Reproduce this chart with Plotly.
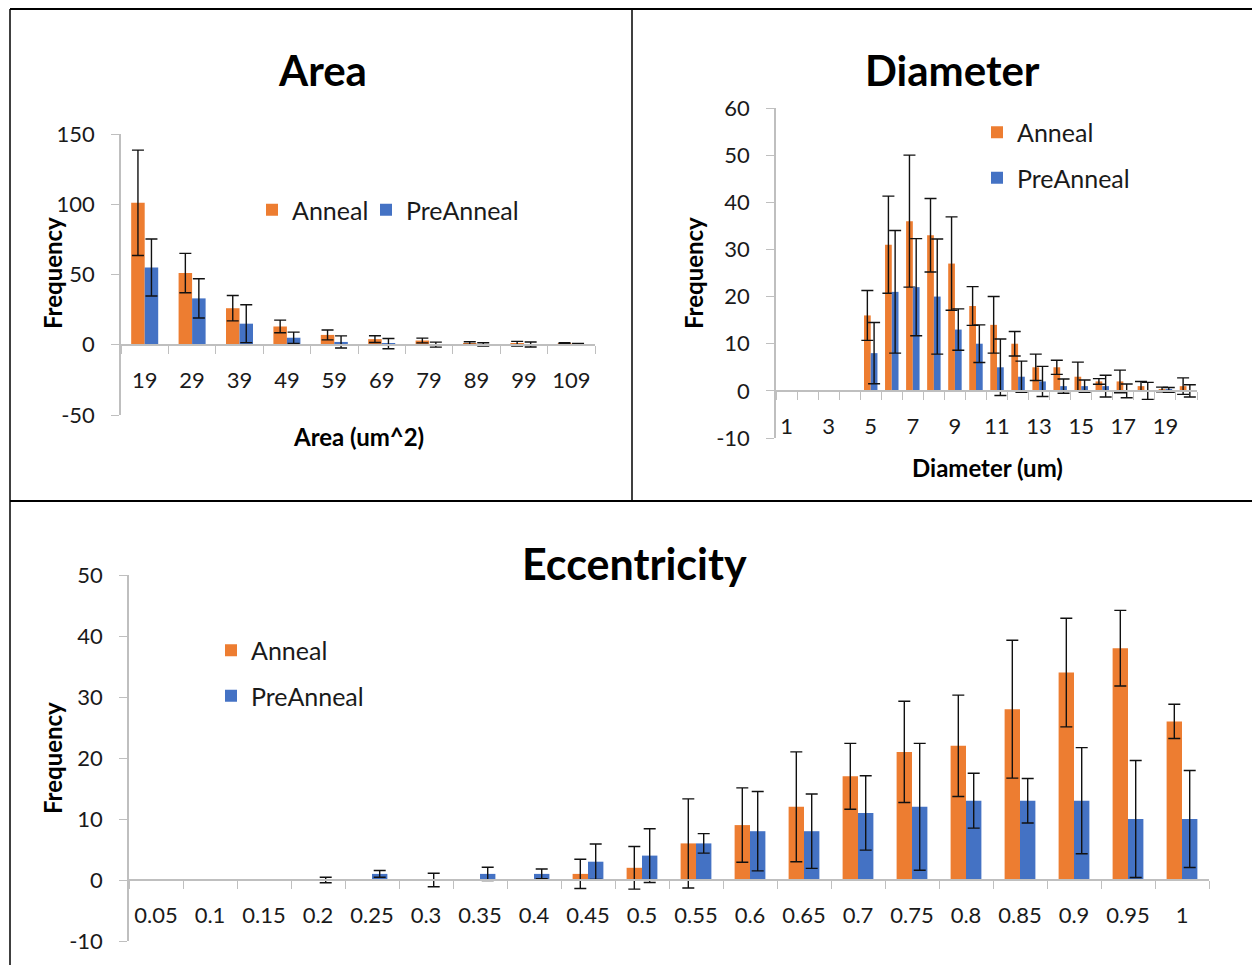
import plotly.graph_objects as go

# ---------------- data ----------------
area_cats = ["19", "29", "39", "49", "59", "69", "79", "89", "99", "109"]
area_anneal = [101, 51, 26, 13, 7, 4, 3, 1.2, 0.7, 1]
area_anneal_err = [37.5, 14, 9, 4.5, 3.5, 2.4, 1.7, 0.9, 1.7, 0.4]
area_pre = [55, 33, 15, 5, 2, 0.8, 0.1, 0.2, 0.2, 0.4]
area_pre_err = [20.3, 14, 13.5, 4, 4.3, 3.7, 1.8, 1.2, 1.8, 0.6]
area_yticks = [-50, 0, 50, 100, 150]

diam_cats = [str(i) for i in range(1, 21)]
diam_labels = ["1", "", "3", "", "5", "", "7", "", "9", "", "11", "", "13", "", "15", "", "17", "", "19", ""]
diam_anneal = [0, 0, 0, 0, 16, 31, 36, 33, 27, 18, 14, 10, 5, 5, 3, 2, 2, 1, 0.3, 1]
diam_anneal_err = [None, None, None, None, 5.3, 10.3, 14, 7.8, 9.9, 4.1, 6, 2.6, 2.8, 1.5, 3.1, 0.6, 2.4, 1, 0.5, 1.75]
diam_pre = [0, 0, 0, 0, 8, 21, 22, 20, 13, 10, 5, 3, 2, 1, 1, 1, 0, 0, 0.2, 0]
diam_pre_err = [None, None, None, None, 6.5, 13, 10.3, 12.2, 4.4, 4.0, 6, 3.3, 3.2, 1.5, 1.3, 2.3, 1.45, 1.8, 0.5, 1.3]
diam_yticks = [-10, 0, 10, 20, 30, 40, 50, 60]

ecc_cats = ["0.05", "0.1", "0.15", "0.2", "0.25", "0.3", "0.35", "0.4", "0.45", "0.5",
            "0.55", "0.6", "0.65", "0.7", "0.75", "0.8", "0.85", "0.9", "0.95", "1"]
ecc_anneal = [0, 0, 0, 0, 0, 0, 0, 0, 1, 2, 6, 9, 12, 17, 21, 22, 28, 34, 38, 26]
ecc_anneal_err = [None, None, None, None, None, None, None, None, 2.4, 3.5, 7.3, 6.1, 9, 5.4, 8.3, 8.3, 11.3, 8.9, 6.2, 2.8]
ecc_pre = [0, 0, 0, 0, 1, 0, 1, 1, 3, 4, 6, 8, 8, 11, 12, 13, 13, 13, 10, 10]
ecc_pre_err = [None, None, None, 0.45, 0.55, 1.1, 1.1, 0.8, 2.9, 4.4, 1.6, 6.5, 6.1, 6.1, 10.4, 4.5, 3.65, 8.7, 9.6, 7.95]
ecc_yticks = [-10, 0, 10, 20, 30, 40, 50]

ORANGE = "#ED7D31"
BLUE = "#4472C4"
AXIS = "#BFBFBF"
TXT = "#1a1a1a"
FONT = "Lato"

W, H = 1252, 965


def px(x):
    return x / W


def py(y):
    return 1 - y / H


fig = go.Figure()


def err(vals):
    return dict(type="data", array=vals, visible=True, color="#111111", thickness=1.4, width=6)


def add_pair(xa, ya, cats, a, ae, p, pe, w, leg_a, leg_p, grp):
    fig.add_trace(go.Bar(x=cats, y=a, name="Anneal", marker=dict(color=ORANGE), error_y=err(ae),
                         xaxis=xa, yaxis=ya, width=w, offset=-w, legend=leg_a,
                         legendgroup=grp + "a"))
    fig.add_trace(go.Bar(x=cats, y=p, name="PreAnneal", marker=dict(color=BLUE), error_y=err(pe),
                         xaxis=xa, yaxis=ya, width=w, offset=0, legend=leg_p,
                         legendgroup=grp + "p"))


add_pair("x", "y", area_cats, area_anneal, area_anneal_err, area_pre, area_pre_err, 0.285,
         "legend", "legend4", "g1")
add_pair("x2", "y2", diam_cats, diam_anneal, diam_anneal_err, diam_pre, diam_pre_err, 0.32,
         "legend2", "legend2", "g2")
add_pair("x3", "y3", ecc_cats, ecc_anneal, ecc_anneal_err, ecc_pre, ecc_pre_err, 0.285,
         "legend3", "legend3", "g3")


def zero_pos(dom, rng):
    return dom[0] + (0 - rng[0]) / (rng[1] - rng[0]) * (dom[1] - dom[0])


tickfont = dict(family=FONT, size=22, color=TXT)

panels = [
    # suffix, xdomain px, ydomain px (bottom, top), y ticks, categories, labels
    ("", [121, 595], [415, 134], area_yticks, area_cats, area_cats),
    ("2", [776, 1197], [438, 108], diam_yticks, diam_cats, diam_labels),
    ("3", [129, 1209], [941, 575], ecc_yticks, ecc_cats, ecc_cats),
]

layout = dict()
for sfx, xd, yd, yt, cats, labels in panels:
    xdom = [px(xd[0]), px(xd[1])]
    ydom = [py(yd[0]), py(yd[1])]
    yr = [min(yt), max(yt)]
    layout["xaxis" + sfx] = dict(
        domain=xdom, anchor="free", position=zero_pos(ydom, yr),
        type="category", tickmode="array", tickvals=cats, ticktext=labels, tickangle=0,
        tickson="boundaries", ticks="outside", ticklen=8, tickcolor=AXIS, tickwidth=1.2,
        showline=True, linecolor=AXIS, linewidth=1.5, showgrid=False, zeroline=False,
        tickfont=tickfont, ticklabelstandoff=16, fixedrange=True,
    )
    layout["yaxis" + sfx] = dict(
        domain=ydom, anchor="x" + sfx, range=yr,
        tickmode="array", tickvals=yt, ticktext=[str(v) for v in yt],
        ticks="outside", ticklen=8, tickcolor=AXIS, tickwidth=1.2,
        showline=True, linecolor=AXIS, linewidth=1.5, showgrid=False, zeroline=False,
        tickfont=tickfont, ticklabelstandoff=12, fixedrange=True,
    )

legfont = dict(family=FONT, size=25, color=TXT)
layout["legend"] = dict(orientation="h", x=px(252), y=py(210), xanchor="left", yanchor="middle",
                        font=legfont, bgcolor="rgba(0,0,0,0)", itemwidth=30)
layout["legend4"] = dict(orientation="h", x=px(366), y=py(210), xanchor="left", yanchor="middle",
                         font=legfont, bgcolor="rgba(0,0,0,0)", itemwidth=30)
layout["legend2"] = dict(orientation="v", x=px(977), y=py(155), xanchor="left", yanchor="middle",
                         font=legfont, bgcolor="rgba(0,0,0,0)", tracegroupgap=10, itemwidth=30)
layout["legend3"] = dict(orientation="v", x=px(211), y=py(673), xanchor="left", yanchor="middle",
                         font=legfont, bgcolor="rgba(0,0,0,0)", tracegroupgap=10, itemwidth=30)

annotations = []


def ann(text, x, y, size, bold=True, angle=0):
    annotations.append(dict(text=("<b>%s</b>" % text) if bold else text, x=px(x), y=py(y),
                            xref="paper", yref="paper", showarrow=False, textangle=angle,
                            xanchor="center", yanchor="middle",
                            font=dict(family=FONT, size=size, color="#000000")))


ann("Area", 322, 70, 42)
ann("Diameter", 952, 70, 42)
ann("Eccentricity", 634, 563, 43)
ann("Frequency", 52, 273, 24, angle=-90)
ann("Frequency", 693, 273, 24, angle=-90)
ann("Frequency", 52, 758, 24, angle=-90)
ann("Area (um^2)", 358, 437, 24)
ann("Diameter (um)", 987, 467, 24)

shapes = [
    dict(type="line", xref="paper", yref="paper", x0=px(10), x1=1, y0=py(9), y1=py(9),
         line=dict(color="#000000", width=2.2)),
    dict(type="line", xref="paper", yref="paper", x0=px(10), x1=px(10), y0=py(9), y1=0,
         line=dict(color="#000000", width=1.5)),
    dict(type="line", xref="paper", yref="paper", x0=px(632), x1=px(632), y0=py(9), y1=py(501),
         line=dict(color="#000000", width=1.5)),
    dict(type="line", xref="paper", yref="paper", x0=px(10), x1=1, y0=py(501), y1=py(501),
         line=dict(color="#000000", width=2.2)),
]

fig.update_layout(
    **layout,
    annotations=annotations,
    shapes=shapes,
    width=W, height=H,
    margin=dict(l=0, r=0, t=0, b=0),
    paper_bgcolor="white", plot_bgcolor="rgba(0,0,0,0)",
    template="none",
    barmode="overlay",
    showlegend=True,
)

fig.write_html("out.html", config={"displayModeBar": False})
